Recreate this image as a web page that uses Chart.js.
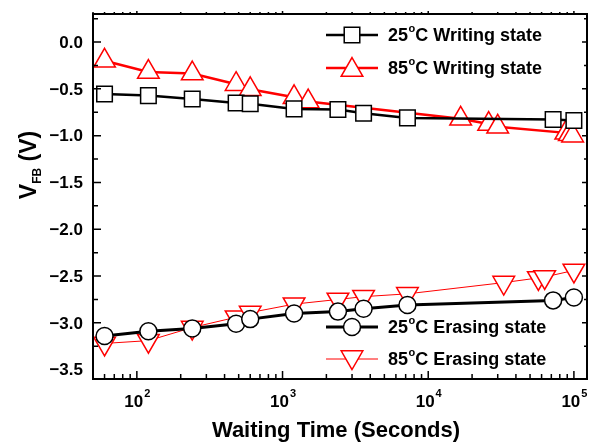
<!DOCTYPE html>
<html>
<head>
<meta charset="utf-8">
<script src="https://cdn.jsdelivr.net/npm/chart.js@4.4.1/dist/chart.umd.min.js"></script>
<style>
  html, body { margin: 0; padding: 0; background: #fff; }
</style>
</head>
<body>
<canvas id="chart1" width="601" height="448"></canvas>
<script>
// data
const seriesNames = ['25°C Writing state', '85°C Writing state', '25°C Erasing state', '85°C Erasing state'];

const timeW25 = [60, 120, 240, 480, 600, 1200, 2400, 3600, 7200, 72000, 100000];
const vfbW25 = [-0.555, -0.572, -0.608, -0.65, -0.66, -0.714, -0.72, -0.76, -0.81, -0.827, -0.837];

const timeW85 = [60, 120, 240, 480, 600, 1200, 1500, 16700, 26000, 30000, 88000, 93000, 98000];
const vfbW85 = [-0.2, -0.32, -0.336, -0.45, -0.505, -0.59, -0.636, -0.82, -0.876, -0.905, -0.97, -0.985, -1.0];

const timeE25 = [60, 120, 240, 480, 600, 1200, 2400, 3600, 7200, 72000, 100000];
const vfbE25 = [-3.14, -3.09, -3.06, -3.01, -2.96, -2.90, -2.88, -2.85, -2.81, -2.76, -2.73];

const timeE85 = [60, 120, 240, 480, 600, 1200, 2400, 3600, 7200, 33000, 57000, 63000, 100000];
const vfbE85 = [-3.22, -3.19, -3.05, -2.94, -2.89, -2.80, -2.75, -2.72, -2.69, -2.57, -2.52, -2.51, -2.44];

const yTicks = [0, -0.5, -1, -1.5, -2, -2.5, -3, -3.5];
const xTickExps = [2, 3, 4, 5];

const FONT = '"Liberation Sans", Arial, sans-serif';

function pts(xs, ys) {
    return xs.map((t, i) => ({ x: t, y: ys[i] }));
}

// legend anchor: [x of line start, y]
const legendPos = [[326, 35], [326, 68], [326, 327], [326, 359]];

function drawLabel(ctx, text, x, y, size) {
    // "25°C ..." with a small raised o for the degree sign
    const parts = text.split('°');
    ctx.font = 'bold ' + size + 'px ' + FONT;
    ctx.textBaseline = 'alphabetic';
    ctx.textAlign = 'left';
    ctx.fillText(parts[0], x, y);
    x += ctx.measureText(parts[0]).width;
    if (parts.length > 1) {
        ctx.font = 'bold ' + Math.round(size * 0.62) + 'px ' + FONT;
        ctx.fillText('o', x + 0.5, y - size * 0.48);
        x += ctx.measureText('o').width + 0.5;
        ctx.font = 'bold ' + size + 'px ' + FONT;
        ctx.fillText(parts[1], x, y);
    }
}

const framePlugin = {
    id: 'framePlugin',
    afterDraw(chart) {
        const { ctx, chartArea: a, scales: { x, y } } = chart;
        ctx.save();
        ctx.strokeStyle = '#000';
        ctx.fillStyle = '#000';
        ctx.lineWidth = 2;
        ctx.strokeRect(a.left, a.top, a.right - a.left, a.bottom - a.top);

        // y ticks, inward
        ctx.lineWidth = 1.5;
        ctx.beginPath();
        for (let k = 0; k * 0.25 <= 3.6; k++) {
            const v = 0.25 - k * 0.25;
            if (v < y.min || v > y.max) continue;
            const py = y.getPixelForValue(v);
            const major = k % 2 === 1;
            ctx.moveTo(a.left, py); ctx.lineTo(a.left + (major ? 8 : 5), py);
            ctx.moveTo(a.right, py); ctx.lineTo(a.right - (major ? 5 : 3), py);
        }
        // x ticks
        for (let e = 1; e <= 5; e++) {
            for (let m = 1; m <= 9; m++) {
                const v = m * Math.pow(10, e);
                if (v < x.min || v > x.max) continue;
                const px = x.getPixelForValue(v);
                const major = m === 1;
                ctx.moveTo(px, a.bottom); ctx.lineTo(px, a.bottom - (major ? 8 : 5));
                ctx.moveTo(px, a.top); ctx.lineTo(px, a.top - (major ? 3 : 2));
            }
        }
        ctx.stroke();

        // y tick labels
        ctx.font = 'bold 17px ' + FONT;
        ctx.textAlign = 'right';
        ctx.textBaseline = 'middle';
        yTicks.forEach(v => {
            const s = v.toFixed(1).replace('-', '\u2212');
            ctx.fillText(s, a.left - 10, y.getPixelForValue(v) + 1);
        });

        // x tick labels 10^n
        xTickExps.forEach(e => {
            const px = x.getPixelForValue(Math.pow(10, e));
            ctx.font = 'bold 17px ' + FONT;
            const w1 = ctx.measureText('10').width;
            ctx.font = 'bold 11px ' + FONT;
            const w2 = ctx.measureText(String(e)).width;
            const x0 = px - (w1 + w2) / 2;
            ctx.textAlign = 'left';
            ctx.textBaseline = 'alphabetic';
            ctx.font = 'bold 17px ' + FONT;
            ctx.fillText('10', x0, 407);
            ctx.font = 'bold 11px ' + FONT;
            ctx.fillText(String(e), x0 + w1 + 1, 397);
        });

        // axis titles
        ctx.font = 'bold 22px ' + FONT;
        ctx.textAlign = 'center';
        ctx.textBaseline = 'alphabetic';
        ctx.fillText('Waiting Time (Seconds)', 336, 437);

        ctx.save();
        ctx.translate(36, 165);
        ctx.rotate(-Math.PI / 2);
        ctx.font = 'bold 23px ' + FONT;
        const wV = ctx.measureText('V').width;
        ctx.font = 'bold 12px ' + FONT;
        const wFB = ctx.measureText('FB').width;
        ctx.font = 'bold 23px ' + FONT;
        const wRest = ctx.measureText(' (V)').width;
        let cx = -(wV + wFB + wRest) / 2;
        ctx.textAlign = 'left';
        ctx.fillText('V', cx, 0);
        cx += wV;
        ctx.font = 'bold 12px ' + FONT;
        ctx.fillText('FB', cx, 5);
        cx += wFB;
        ctx.font = 'bold 23px ' + FONT;
        ctx.fillText(' (V)', cx, 0);
        ctx.restore();

        // legend
        chart.data.datasets.forEach((ds, i) => {
            const [lx, ly] = legendPos[i];
            ctx.strokeStyle = ds.borderColor;
            ctx.lineWidth = ds.borderWidth;
            ctx.beginPath();
            ctx.moveTo(lx, ly); ctx.lineTo(lx + 52, ly);
            ctx.stroke();
            ctx.fillStyle = '#fff';
            ctx.strokeStyle = ds.pointBorderColor;
            ctx.lineWidth = ds.pointBorderWidth;
            Chart.helpers.drawPoint(ctx, {
                pointStyle: ds.pointStyle,
                radius: ds.pointRadius,
                rotation: ds.pointRotation || 0,
                borderWidth: ds.pointBorderWidth
            }, lx + 26, ly + (ds.pointStyle === 'triangle' ? (ds.pointRotation ? -2 : 2) : 0));
            ctx.fillStyle = '#000';
            drawLabel(ctx, seriesNames[i], 388, ly + 6, 18);
        });
        ctx.restore();
    }
};

const ctx1 = document.getElementById('chart1').getContext('2d');
new Chart(ctx1, {
    type: 'line',
    data: {
        datasets: [{
            label: seriesNames[0],
            data: pts(timeW25, vfbW25),
            borderColor: '#000',
            borderWidth: 2.5,
            pointStyle: 'rect',
            pointRadius: 11,
            pointBorderColor: '#000',
            pointBackgroundColor: '#fff',
            pointBorderWidth: 1.5
        }, {
            label: seriesNames[1],
            data: pts(timeW85, vfbW85),
            borderColor: '#ff0000',
            borderWidth: 2.5,
            pointStyle: 'triangle',
            pointRadius: 12.5,
            pointBorderColor: '#ff0000',
            pointBackgroundColor: '#fff',
            pointBorderWidth: 1.5
        }, {
            label: seriesNames[2],
            data: pts(timeE25, vfbE25),
            borderColor: '#000',
            borderWidth: 3,
            pointStyle: 'circle',
            pointRadius: 8.5,
            pointBorderColor: '#000',
            pointBackgroundColor: '#fff',
            pointBorderWidth: 1.5
        }, {
            label: seriesNames[3],
            data: pts(timeE85, vfbE85),
            borderColor: '#ff0000',
            borderWidth: 1,
            pointStyle: 'triangle',
            pointRotation: 180,
            pointRadius: 12.5,
            pointBorderColor: '#ff0000',
            pointBackgroundColor: '#fff',
            pointBorderWidth: 1.5
        }]
    },
    options: {
        responsive: false,
        animation: false,
        events: [],
        layout: { padding: { left: 0, top: 11, right: 8, bottom: 0 } },
        plugins: {
            legend: { display: false },
            tooltip: { enabled: false }
        },
        scales: {
            x: {
                type: 'logarithmic',
                min: 50,
                max: 123000,
                grid: { display: false },
                border: { display: false },
                ticks: { display: false },
                afterFit: s => { s.height = 69; }
            },
            y: {
                type: 'linear',
                min: -3.6,
                max: 0.3,
                grid: { display: false },
                border: { display: false },
                ticks: { display: false },
                afterFit: s => { s.width = 93; }
            }
        }
    },
    plugins: [framePlugin]
});
</script>
</body>
</html>
